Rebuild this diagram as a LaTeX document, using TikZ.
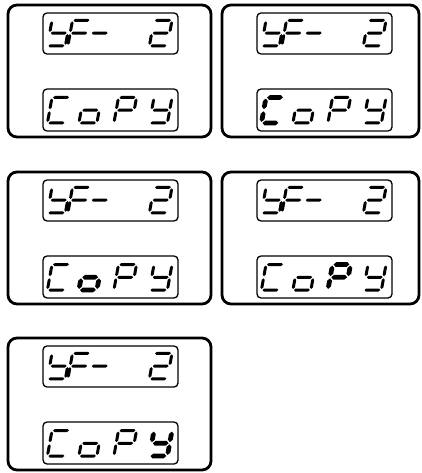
\documentclass[tikz,border=0pt]{standalone}
\tikzset{
  panelbox/.style={draw, line width=2.8pt, rounded corners=9pt},
  lcdbox/.style={draw, line width=1.3pt, rounded corners=4pt},
  segfill/.style={fill=black}
}
\def\zzs{0.18}\def\zzw{18}\def\zzh{25.5}\def\zzg{1.1}\def\zzt{1.5}
\def\zzx{0}\def\zzy{0}
\newcommand\zzhseg[3]{\fill[segfill]
 ({\zzx+(#1)-\zzs*(#3)},{\zzy+(#3)})
 -- ({\zzx+(#1)+\zzt-\zzs*((#3)-\zzt)},{\zzy+(#3)-\zzt})
 -- ({\zzx+(#2)-\zzt-\zzs*((#3)-\zzt)},{\zzy+(#3)-\zzt})
 -- ({\zzx+(#2)-\zzs*(#3)},{\zzy+(#3)})
 -- ({\zzx+(#2)-\zzt-\zzs*((#3)+\zzt)},{\zzy+(#3)+\zzt})
 -- ({\zzx+(#1)+\zzt-\zzs*((#3)+\zzt)},{\zzy+(#3)+\zzt}) -- cycle;}
\newcommand\zzvseg[3]{\fill[segfill]
 ({\zzx+(#1)-\zzs*(#2)},{\zzy+(#2)})
 -- ({\zzx+(#1)+\zzt-\zzs*((#2)+\zzt)},{\zzy+(#2)+\zzt})
 -- ({\zzx+(#1)+\zzt-\zzs*((#3)-\zzt)},{\zzy+(#3)-\zzt})
 -- ({\zzx+(#1)-\zzs*(#3)},{\zzy+(#3)})
 -- ({\zzx+(#1)-\zzt-\zzs*((#3)-\zzt)},{\zzy+(#3)-\zzt})
 -- ({\zzx+(#1)-\zzt-\zzs*((#2)+\zzt)},{\zzy+(#2)+\zzt}) -- cycle;}
\newcommand\sA{\zzhseg{\zzg}{\zzw-\zzg}{0}}
\newcommand\sD{\zzhseg{\zzg}{\zzw-\zzg}{\zzh}}
\newcommand\sG{\zzhseg{\zzg}{\zzw-\zzg}{\zzh/2}}
\newcommand\sB{\zzvseg{\zzw}{\zzg}{\zzh/2-\zzg}}
\newcommand\sC{\zzvseg{\zzw}{\zzh/2+\zzg}{\zzh-\zzg}}
\newcommand\sF{\zzvseg{0}{\zzg}{\zzh/2-\zzg}}
\newcommand\sE{\zzvseg{0}{\zzh/2+\zzg}{\zzh-\zzg}}
% glyph: x, y, segments, bold flag
\newcommand\zzglyph[4]{\pgfmathsetmacro\zzx{#1}\pgfmathsetmacro\zzy{#2}%
 \ifnum#4=1 \def\zzt{2.4}\else\def\zzt{1.5}\fi #3\def\zzt{1.5}}
% panel: x, y, width, bold index
\newcommand\zzpanel[4]{%
 \draw[panelbox] (#1,#2) rectangle ++(#3,132);
 \draw[lcdbox] ({#1+35},{#2+8}) rectangle ++(135,41);
 \draw[lcdbox] ({#1+35},{#2+84}) rectangle ++(135,42);
 \zzglyph{#1+44}{#2+15.3}{\sF\sG\sC\sD}{0}%
 \zzglyph{#1+64.5}{#2+15.3}{\sA\sF\sE\sG}{0}%
 \zzglyph{#1+85}{#2+15.3}{\sG}{0}%
 \zzglyph{#1+146}{#2+15.3}{\sA\sB\sG\sE\sD}{0}%
 \zzglyph{#1+44}{#2+92.5}{\sA\sF\sE\sD}{\ifnum#4=1 1\else 0\fi}%
 \zzglyph{#1+75.5}{#2+92.5}{\sG\sC\sD\sE}{\ifnum#4=2 1\else 0\fi}%
 \zzglyph{#1+110.5}{#2+92.5}{\sA\sB\sF\sG\sE}{\ifnum#4=3 1\else 0\fi}%
 \zzglyph{#1+146}{#2+92.5}{\sF\sB\sG\sC\sD}{\ifnum#4=4 1\else 0\fi}%
}
\begin{document}
\begin{tikzpicture}[x=1pt,y=-1pt]
\useasboundingbox (0,0) rectangle (421,473);
\zzpanel{8}{5}{203}{0}
\zzpanel{222}{5}{197}{1}
\zzpanel{8}{172}{203}{2}
\zzpanel{222}{172}{197}{3}
\zzpanel{8}{338}{203}{4}
\end{tikzpicture}
\end{document}
